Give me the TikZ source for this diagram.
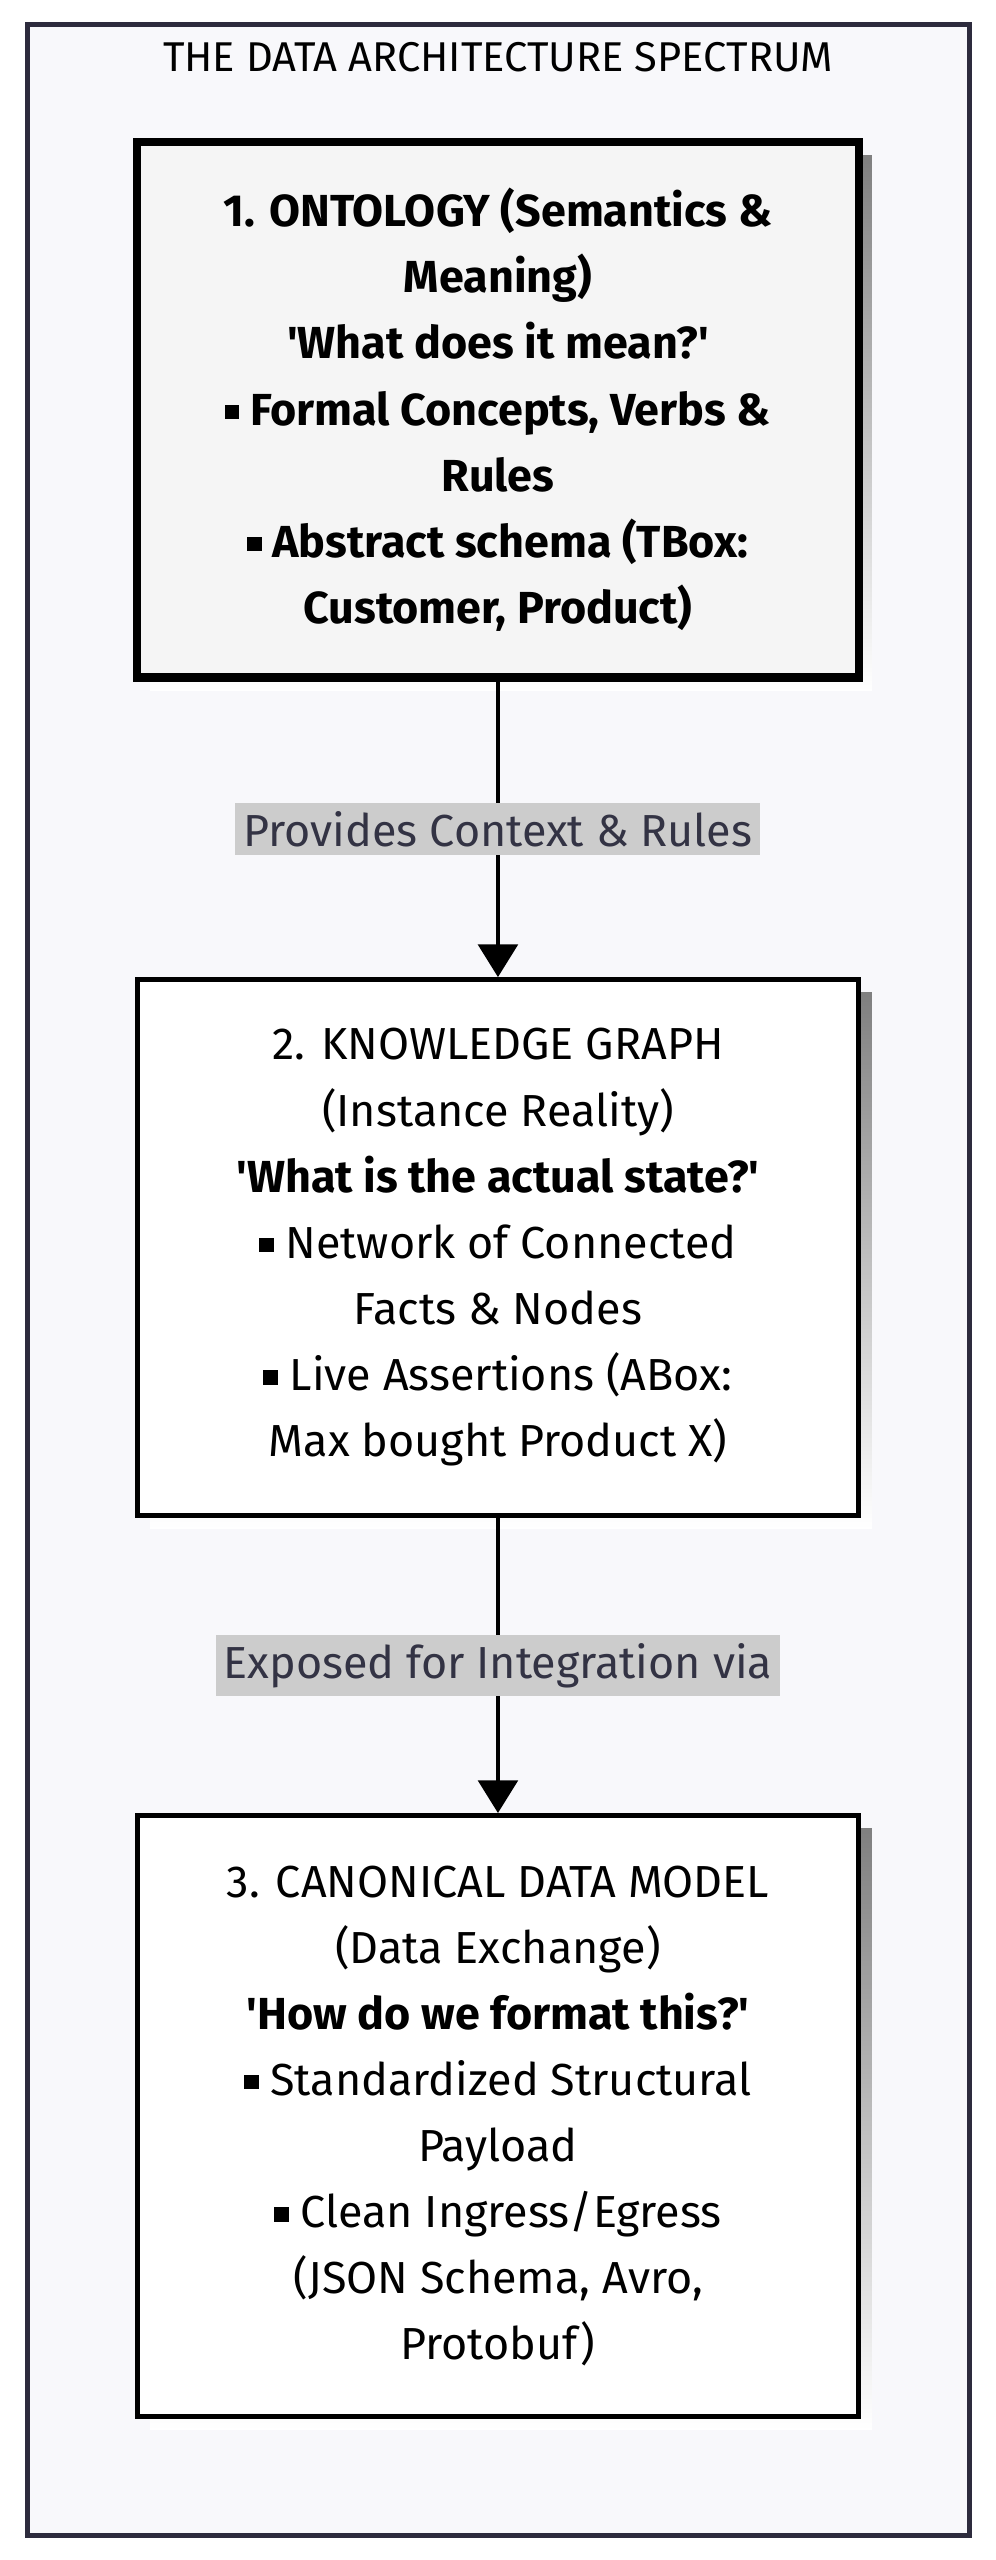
\documentclass[tikz,border=0pt]{standalone}
\usepackage{fontspec}
\setmainfont{Fira Sans}
\usetikzlibrary{arrows.meta,positioning}
\definecolor{frameline}{HTML}{2D2B3D}
\definecolor{framefill}{HTML}{F8F8FB}
\definecolor{shade}{HTML}{E8E8EB}
\definecolor{labelfill}{HTML}{CCCCCC}
\definecolor{labeltext}{HTML}{333344}
\newcommand{\sq}{\rule[0.25ex]{0.32em}{0.32em}\ }
\newcommand{\q}{\textquotesingle}
\tikzset{
  layer/.style={draw=black, line width=3pt, fill=white, minimum width=442pt,
    align=center, font=\fontsize{27.5}{40.5}\selectfont, inner sep=0pt},
  flow/.style={-{Triangle[width=24pt,length=20pt]}, line width=3pt},
  flowlabel/.style={fill=labelfill, text=labeltext, font=\fontsize{27.5}{30}\selectfont,
    inner sep=5pt}
}
\begin{document}
\begin{tikzpicture}[x=1pt,y=1pt]
  \useasboundingbox (0,0) rectangle (610,-1568);
  % frame
  \draw[frameline, line width=3pt, fill=framefill] (17,-15) rectangle (594,-1553);
  \node (title) at (305,-35) {\fontsize{25.5}{28}\selectfont THE DATA ARCHITECTURE SPECTRUM};
  % shadows
  \fill[shade] (92,-95) rectangle (534,-423);
  \fill[shade] (92,-608) rectangle (534,-936);
  \fill[shade] (92,-1120) rectangle (534,-1488);
  % layers
  \node[layer, line width=5pt, fill=gray!8, minimum height=328pt] (onto) at (305,-251)
    {\bfseries 1. ONTOLOGY (Semantics \&\\ \bfseries Meaning)\\
     \bfseries \q What does it mean?\q\\
     \bfseries\sq Formal Concepts, Verbs \&\\ \bfseries Rules\\
     \bfseries\sq Abstract schema (TBox:\\ \bfseries Customer, Product)};
  \node[layer, minimum height=328pt] (kg) at (305,-764)
    {2. KNOWLEDGE GRAPH\\ (Instance Reality)\\
     \bfseries \q What is the actual state?\q\\
     \sq Network of Connected\\ Facts \& Nodes\\
     \sq Live Assertions (ABox:\\ Max bought Product X)};
  \node[layer, minimum height=368pt] (cdm) at (305,-1296)
    {3. CANONICAL DATA MODEL\\ (Data Exchange)\\
     \bfseries \q How do we format this?\q\\
     \sq Standardized Structural\\ Payload\\
     \sq Clean Ingress/Egress\\ (JSON Schema, Avro,\\ Protobuf)};
  % connectors
  \draw[flow] (onto) -- (kg) node[flowlabel, pos=0.5] {Provides Context \& Rules};
  \draw[flow] (kg) -- (cdm) node[flowlabel, pos=0.5] {Exposed for Integration via};
\end{tikzpicture}
\end{document}
